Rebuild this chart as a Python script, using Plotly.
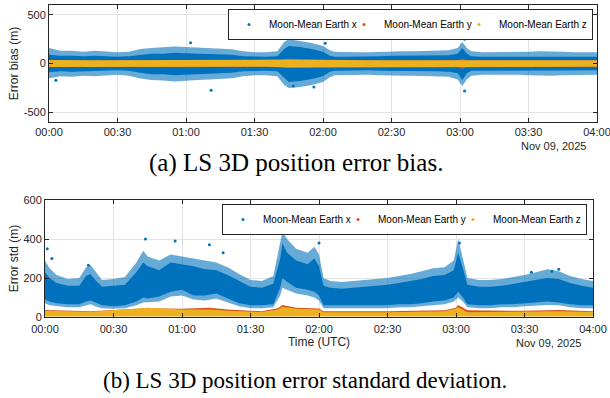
import plotly.graph_objects as go

# ---------------- data (minutes after 00:00 UTC, metres) ----------------
tick_minutes = [0, 30, 60, 90, 120, 150, 180, 210, 240]
tick_labels = ["00:00", "00:30", "01:00", "01:30", "02:00", "02:30", "03:00", "03:30", "04:00"]
series_names = ["Moon-Mean Earth x", "Moon-Mean Earth y", "Moon-Mean Earth z"]

# (a) bias: envelope of the x point cloud
t_bias = [0, 5, 10, 15, 20, 25, 30, 35, 40, 45, 50, 55, 60, 65, 70, 75, 80, 85, 90, 95, 100,
          103, 105, 110, 115, 120, 123, 125, 130, 135, 140, 145, 150, 155, 160, 165, 170, 175,
          179, 181, 183, 185, 190, 195, 200, 205, 210, 215, 220, 225, 230, 235, 240]
bias_x_core_hi = [90, 80, 80, 75, 80, 75, 70, 75, 90, 100, 100, 110, 105, 100, 100, 95, 90, 75, 70, 70, 75,
                  150, 180, 170, 150, 120, 80, 70, 70, 70, 70, 75, 80, 80, 80, 80, 80, 85,
                  100, 160, 100, 75, 70, 70, 70, 70, 75, 75, 75, 70, 70, 70, 70]
bias_x_core_lo = [-90, -80, -85, -80, -80, -75, -70, -75, -95, -110, -110, -120, -110, -110, -105, -100, -95, -80, -75, -75, -80,
                  -150, -190, -180, -160, -130, -85, -75, -70, -70, -70, -75, -80, -80, -80, -80, -80, -85,
                  -100, -170, -100, -75, -70, -70, -70, -70, -75, -75, -75, -70, -70, -70, -70]
bias_x_out_hi = [160, 130, 130, 120, 130, 120, 115, 120, 150, 160, 165, 175, 170, 165, 160, 155, 145, 125, 115, 115, 125,
                 220, 250, 230, 210, 180, 135, 120, 115, 115, 115, 120, 125, 125, 125, 130, 130, 135,
                 160, 220, 160, 125, 115, 115, 115, 115, 120, 125, 125, 120, 115, 115, 115]
bias_x_out_lo = [-150, -130, -135, -125, -130, -120, -115, -125, -155, -170, -175, -185, -175, -170, -165, -160, -150, -130, -120, -120, -130,
                 -220, -250, -240, -220, -190, -140, -120, -115, -115, -115, -120, -125, -125, -125, -130, -130, -135,
                 -165, -230, -165, -125, -115, -115, -115, -115, -120, -125, -125, -120, -115, -115, -115]
bias_x_out_t = [3, 62, 71, 105, 107, 116, 121, 182, 182]
bias_x_out_v = [-172, 214, -275, 293, -230, -241, 207, 248, -283]
# y and z bias bands
bias_y_hi = [30, 30, 30, 30, 30, 30, 30, 30, 34, 34, 34, 34, 34, 34, 34, 34, 34, 30, 30, 30, 30,
             44, 48, 44, 40, 34, 30, 30, 30, 30, 30, 30, 30, 30, 30, 30, 30, 30,
             34, 50, 34, 30, 30, 30, 30, 30, 30, 30, 30, 30, 30, 30, 30]
bias_y_lo = [-30, -30, -30, -30, -30, -30, -30, -30, -34, -38, -38, -38, -38, -38, -34, -34, -34, -30, -30, -30, -30,
             -44, -48, -44, -40, -34, -30, -30, -30, -30, -30, -30, -30, -30, -30, -30, -30, -30,
             -34, -55, -34, -30, -30, -30, -30, -30, -30, -30, -30, -30, -30, -30, -30]
bias_z_hi = [35, 33, 33, 33, 33, 33, 33, 33, 35, 37, 37, 37, 37, 37, 35, 35, 35, 33, 33, 33, 33,
             40, 42, 40, 38, 36, 33, 33, 33, 33, 33, 33, 33, 33, 33, 33, 33, 33,
             36, 40, 36, 33, 33, 33, 33, 33, 33, 33, 33, 33, 33, 33, 33]
bias_z_lo = [-35, -33, -33, -33, -33, -33, -33, -33, -35, -37, -37, -37, -37, -37, -35, -35, -35, -33, -33, -33, -33,
             -40, -42, -40, -38, -36, -33, -33, -33, -33, -33, -33, -33, -33, -33, -33, -33, -33,
             -36, -40, -36, -33, -33, -33, -33, -33, -33, -33, -33, -33, -33, -33, -33]

# (b) standard deviation: envelope of the x point cloud
t_std = [0, 2, 5, 10, 15, 18, 20, 22, 25, 30, 35, 40, 43, 45, 50, 55, 60, 65, 70, 75, 80, 85, 90, 95, 100,
         103, 104, 106, 110, 115, 118, 120, 122, 125, 130, 135, 140, 145, 150, 155, 160, 165, 170, 175,
         179, 181, 183, 185, 190, 195, 200, 205, 210, 215, 220, 225, 230, 235, 240]
std_x_core_hi = [230, 200, 175, 160, 160, 210, 220, 190, 155, 160, 165, 230, 280, 260, 240, 280, 270, 260, 245, 240, 215, 185, 155, 150, 170,
                 300, 380, 330, 290, 270, 300, 260, 160, 150, 145, 150, 155, 160, 165, 175, 185, 195, 210, 215,
                 240, 330, 250, 165, 155, 155, 160, 170, 180, 190, 200, 195, 175, 160, 150]
std_x_core_lo = [90, 80, 70, 65, 65, 80, 85, 75, 60, 55, 60, 80, 100, 95, 105, 130, 140, 110, 110, 120, 95, 70, 60, 60, 65,
                 150, 200, 180, 150, 140, 130, 110, 60, 60, 60, 60, 60, 60, 60, 65, 65, 70, 80, 85,
                 100, 130, 100, 65, 60, 60, 65, 65, 70, 75, 80, 75, 65, 60, 60]
std_x_out_hi = [290, 250, 215, 195, 200, 255, 265, 235, 190, 195, 205, 280, 340, 310, 290, 320, 310, 300, 290, 280, 255, 220, 190, 185, 210,
                370, 440, 400, 350, 330, 360, 320, 200, 185, 180, 185, 190, 195, 200, 210, 220, 235, 250, 255,
                290, 400, 300, 200, 190, 190, 195, 205, 215, 230, 245, 235, 210, 195, 185]
std_x_out_lo = [70, 60, 55, 50, 50, 60, 65, 55, 45, 42, 45, 60, 75, 75, 80, 105, 110, 90, 85, 95, 75, 55, 45, 45, 50,
                110, 150, 140, 120, 110, 100, 85, 45, 45, 45, 45, 45, 45, 45, 50, 50, 55, 60, 65,
                80, 100, 80, 50, 45, 45, 50, 50, 55, 60, 62, 60, 50, 45, 45]
std_x_out_t = [1, 3, 19, 44, 57, 72, 78, 103.5, 104.5, 120, 181, 181.5, 213, 222, 225]
std_x_out_v = [350, 300, 265, 400, 390, 370, 330, 470, 440, 380, 460, 380, 230, 235, 245]
# y and z standard deviations
t_std_yz = [0, 20, 45, 60, 72, 80, 95, 102, 104, 110, 120, 122, 150, 175, 180, 181, 185, 210, 225, 240]
std_y_hi = [36, 30, 45, 42, 48, 38, 30, 45, 62, 48, 44, 30, 30, 34, 48, 62, 34, 32, 36, 30]
std_y_lo = [14, 12, 16, 16, 18, 15, 12, 16, 22, 18, 16, 12, 12, 14, 18, 22, 14, 13, 14, 12]
std_z_hi = [32, 27, 48, 38, 38, 32, 26, 38, 52, 42, 38, 25, 25, 30, 43, 50, 25, 27, 30, 26]
std_z_lo = [3, 3, 4, 4, 4, 3, 3, 4, 5, 4, 4, 3, 3, 3, 4, 5, 3, 3, 3, 3]

# ---------------- styling ----------------
BLUE, RED, YEL = "#0072BD", "#D95319", "#EDB120"
AX = "#262626"
GRID = "#E3E3E3"
SANS = "Liberation Sans, Arial, sans-serif"
SERIF = "Liberation Serif, Times New Roman, serif"
W, H = 610, 398


def band(t, lo, hi, color, opacity, xa, ya):
    return go.Scatter(x=list(t) + list(t)[::-1], y=list(hi) + list(lo)[::-1],
                      fill="toself", fillcolor=color, opacity=opacity, mode="lines",
                      line=dict(width=0), hoverinfo="skip", showlegend=False,
                      xaxis=xa, yaxis=ya)


def legend_dot(name, color, xa, ya, leg, lw):
    return go.Scatter(x=[None], y=[None], mode="markers", name=name, legendwidth=lw,
                      marker=dict(color=color, size=3), xaxis=xa, yaxis=ya, legend=leg)


fig = go.Figure()

# ---- subplot (a)
fig.add_trace(band(t_bias, bias_x_out_lo, bias_x_out_hi, BLUE, 0.6, "x", "y"))
fig.add_trace(band(t_bias, bias_x_core_lo, bias_x_core_hi, BLUE, 1.0, "x", "y"))
fig.add_trace(go.Scatter(x=bias_x_out_t, y=bias_x_out_v, mode="markers", showlegend=False,
                         marker=dict(color=BLUE, size=3), xaxis="x", yaxis="y"))
fig.add_trace(band(t_bias, bias_y_lo, bias_y_hi, RED, 1.0, "x", "y"))
fig.add_trace(band(t_bias, bias_z_lo, bias_z_hi, YEL, 1.0, "x", "y"))
fig.add_trace(legend_dot(series_names[0], BLUE, "x", "y", "legend", 70))
fig.add_trace(legend_dot(series_names[1], RED, "x", "y", "legend", 70))
fig.add_trace(legend_dot(series_names[2], YEL, "x", "y", "legend", 88))

# ---- subplot (b)
fig.add_trace(band(t_std, std_x_out_lo, std_x_out_hi, BLUE, 0.6, "x2", "y2"))
fig.add_trace(band(t_std, std_x_core_lo, std_x_core_hi, BLUE, 1.0, "x2", "y2"))
fig.add_trace(go.Scatter(x=std_x_out_t, y=std_x_out_v, mode="markers", showlegend=False,
                         marker=dict(color=BLUE, size=3), xaxis="x2", yaxis="y2"))
fig.add_trace(band(t_std_yz, std_y_lo, std_y_hi, RED, 1.0, "x2", "y2"))
fig.add_trace(band(t_std_yz, std_z_lo, std_z_hi, YEL, 1.0, "x2", "y2"))
fig.add_trace(legend_dot(series_names[0], BLUE, "x2", "y2", "legend2", 70))
fig.add_trace(legend_dot(series_names[1], RED, "x2", "y2", "legend2", 70))
fig.add_trace(legend_dot(series_names[2], YEL, "x2", "y2", "legend2", 88))

axis_common = dict(showline=True, linecolor=AX, linewidth=1, mirror="ticks", ticks="inside",
                   ticklen=4, tickcolor=AX, showgrid=True, gridcolor=GRID, gridwidth=1,
                   zeroline=False, automargin=False, ticklabeloverflow="allow",
                   tickfont=dict(family=SANS, size=11, color=AX))

legend_common = dict(orientation="h", bgcolor="white", bordercolor=AX, borderwidth=1,
                     font=dict(family=SANS, size=10, color="black"), itemwidth=30,
                     entrywidthmode="pixels", xanchor="right", yanchor="top",
                     tracegroupgap=0, itemsizing="trace")

fig.update_layout(
    width=W, height=H, margin=dict(l=0, r=0, t=0, b=0), plot_bgcolor="white",
    paper_bgcolor="white", showlegend=True,
    xaxis=dict(domain=[49 / W, 597 / W], range=[0, 240], tickvals=tick_minutes,
               ticktext=tick_labels, anchor="y", **axis_common),
    yaxis=dict(domain=[1 - 122 / H, 1 - 5 / H], range=[-600, 600], tickvals=[-500, 0, 500],
               ticktext=["-500", "0", "500"], anchor="x",
               title=dict(text="Error bias (m)", font=dict(family=SANS, size=12, color=AX), standoff=2),
               **axis_common),
    xaxis2=dict(domain=[45 / W, 593 / W], range=[0, 240], tickvals=tick_minutes,
                ticktext=tick_labels, anchor="y2", ticklabelstandoff=2,
                title=dict(text="Time (UTC)", font=dict(family=SANS, size=12, color=AX), standoff=2),
                **axis_common),
    yaxis2=dict(domain=[1 - 317 / H, 1 - 200 / H], range=[0, 600], tickvals=[0, 200, 400, 600],
                anchor="x2",
                title=dict(text="Error std (m)", font=dict(family=SANS, size=12, color=AX), standoff=2),
                **axis_common),
    legend=dict(x=593 / W, y=1 - 9 / H, **legend_common),
    legend2=dict(x=587 / W, y=1 - 204 / H, **legend_common),
    annotations=[
        dict(text="Nov 09, 2025", x=588 / W, y=1 - 146 / H, xref="paper", yref="paper",
             xanchor="right", yanchor="middle", showarrow=False,
             font=dict(family=SANS, size=11, color=AX)),
        dict(text="Nov 09, 2025", x=583 / W, y=1 - 343 / H, xref="paper", yref="paper",
             xanchor="right", yanchor="middle", showarrow=False,
             font=dict(family=SANS, size=11, color=AX)),
        dict(text="(a) LS 3D position error bias.", x=296 / W, y=1 - 163 / H, xref="paper",
             yref="paper", xanchor="center", yanchor="middle", showarrow=False,
             font=dict(family=SERIF, size=25, color="black")),
        dict(text="(b) LS 3D position error standard deviation.", x=305 / W, y=1 - 380 / H,
             xref="paper", yref="paper", xanchor="center", yanchor="middle", showarrow=False,
             font=dict(family=SERIF, size=23, color="black")),
    ],
)

fig.write_html("out.html", config={"displayModeBar": False},
               post_script="document.body.style.margin='0';document.body.style.overflow='hidden';")
